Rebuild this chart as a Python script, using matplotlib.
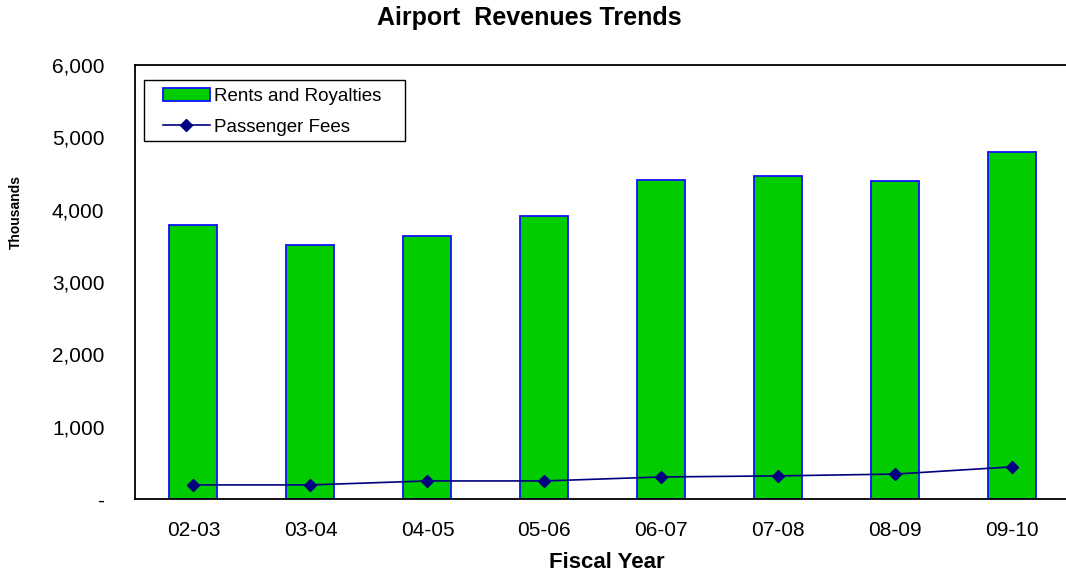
import matplotlib
matplotlib.use("Agg")
import matplotlib.pyplot as plt
from matplotlib.patches import Rectangle
from matplotlib.ticker import FuncFormatter

years = ["02-03", "03-04", "04-05", "05-06", "06-07", "07-08", "08-09", "09-10"]
rents = [3790, 3510, 3635, 3910, 4410, 4465, 4395, 4795]
fees = [195, 195, 250, 250, 305, 320, 345, 445]

plt.rcParams["font.family"] = ["Liberation Sans", "DejaVu Sans"]

W, H = 1066, 573
fig = plt.figure(figsize=(W / 100, H / 100), dpi=100)
ax = fig.add_axes([0.1266, 0.1291, 0.878, 0.7575])

x = range(len(years))
ax.bar(x, rents, width=0.41, color="#00CC00", edgecolor="#1010FF", linewidth=1.3,
       label="Rents and Royalties", zorder=2)
ax.plot(x, fees, color="#000080", linewidth=1.2, marker="D", markersize=6,
        label="Passenger Fees", zorder=3)

ax.set_xlim(-0.5, len(years) - 0.5)
ax.set_ylim(0, 6000)
ax.set_yticks(range(0, 6001, 1000))
ax.yaxis.set_major_formatter(FuncFormatter(lambda v, p: "-" if v == 0 else f"{int(v):,}"))
ax.set_xticks(list(x))
ax.set_xticklabels(years)
ax.tick_params(axis="both", length=0, labelsize=15)
ax.tick_params(axis="x", pad=16)
ax.tick_params(axis="y", pad=22)
for s in ax.spines.values():
    s.set_linewidth(1.3)

# titles placed in figure pixels
fig.text(529 / W, 1 - 18 / H, "Airport  Revenues Trends", fontsize=18, fontweight="bold",
         ha="center", va="center")
fig.text(607 / W, 1 - 562 / H, "Fiscal Year", fontsize=16, fontweight="bold",
         ha="center", va="center")
fig.text(16 / W, 1 - 212 / H, "Thousands", fontsize=10, fontweight="bold",
         ha="center", va="center", rotation=90)

# legend box drawn separately so the padding can differ by direction
fig.patches.append(Rectangle((144 / W, 1 - 141 / H), 261 / W, 61 / H,
                             transform=fig.transFigure, facecolor="white",
                             edgecolor="black", linewidth=1.0, zorder=5))
handles, labels = ax.get_legend_handles_labels()
leg = fig.legend(handles[::-1], labels[::-1], loc="upper left",
                 bbox_to_anchor=(163 / W, 1 - 88 / H), borderaxespad=0, borderpad=0,
                 fontsize=13.5, frameon=False, handlelength=2.5, handletextpad=0.2,
                 labelspacing=0.72)
leg.set_zorder(6)

fig.savefig("out.png", dpi=100)
